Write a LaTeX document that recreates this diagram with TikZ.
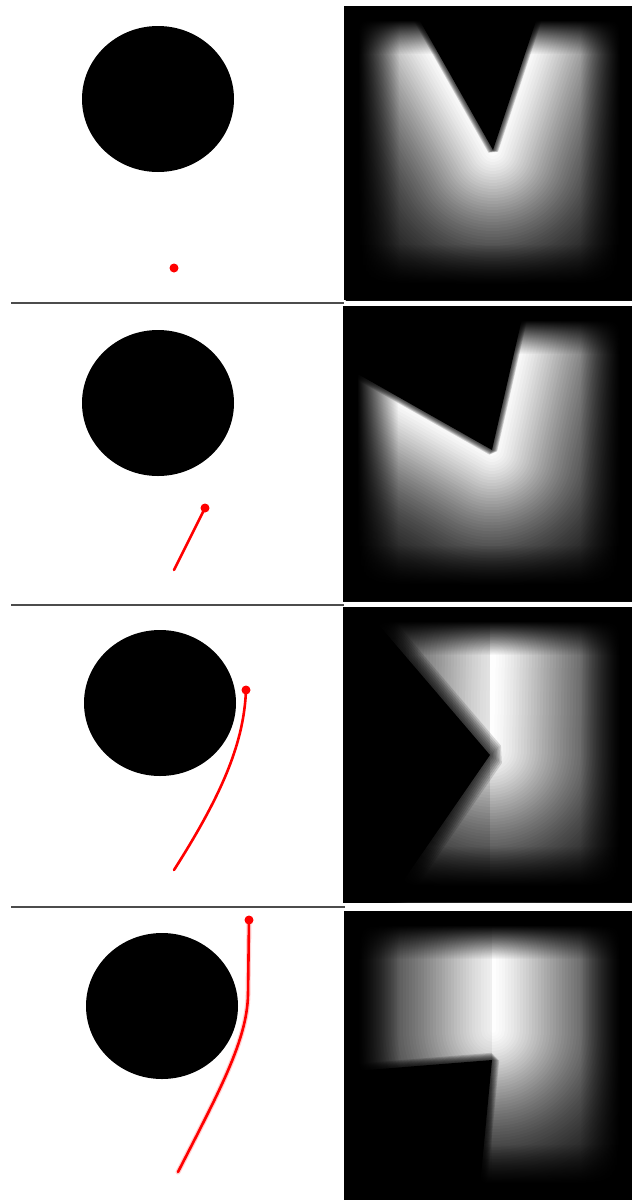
\documentclass[tikz,border=0pt]{standalone}
\usetikzlibrary{fadings}
\tikzfading[name=fadeL, left color=transparent!0, right color=transparent!100]
\tikzfading[name=fadeR, left color=transparent!100, right color=transparent!0]
\tikzfading[name=fadeT, top color=transparent!0, bottom color=transparent!100]
\tikzfading[name=fadeB, top color=transparent!100, bottom color=transparent!0]
\tikzset{
  obstacle/.style={fill=black},
  arm/.style={red, line width=2.6pt, line cap=round, line join=round},
  tip/.style={circle, fill=red, inner sep=0pt, minimum size=9pt},
  separator/.style={black!70, line width=1.4pt},
}
% distance field: #1 path, #2 fall-off distance
\newcommand\myfield[2]{%
  \foreach \d in {210,207,...,3}{%
    \pgfmathsetmacro\lv{100*exp(-((\d/#2)^1.5))}%
    \pgfmathsetmacro\lw{2*\d}%
    \draw[line width=\lw pt, draw=white!\lv!black, line join=round, line cap=round] #1;
  }}
% soft black wedge: #1 path, #2 blur
\newcommand\mywedge[2]{%
  \foreach \k in {8,7,...,1}{%
    \pgfmathsetmacro\bw{#2*\k*0.45}%
    \draw[black, opacity=0.14, line width=\bw pt, line join=bevel] #1;
  }
  \fill[black] #1;}
% darkened borders: x0 y0 x1 y1
\newcommand\myvignette[4]{%
  \fill[black] (#1,#2) rectangle ({#1+14},#4);
  \fill[black,path fading=fadeL] ({#1+14},#2) rectangle ({#1+55},#4);
  \fill[black] ({#3-12},#2) rectangle (#3,#4);
  \fill[black,path fading=fadeR] ({#3-52},#2) rectangle ({#3-12},#4);
  \fill[black] (#1,#2) rectangle (#3,{#2+14});
  \fill[black,path fading=fadeT] (#1,{#2+14}) rectangle (#3,{#2+48});
  \fill[black] (#1,{#4-16}) rectangle (#3,#4);
  \fill[black,path fading=fadeB] (#1,{#4-56}) rectangle (#3,{#4-16});
}
\begin{document}
\begin{tikzpicture}[x=1pt,y=-1pt]
\useasboundingbox (0,0) rectangle (632,1200);
\fill[white] (0,0) rectangle (632,1200);

% ---------------- left panels ----------------
% row 1
\fill[obstacle] (158,99) ellipse (76 and 73);
\node[tip] (t1) at (174,268) {};
\draw[separator] (11,303) -- (344,303);
% row 2
\fill[obstacle] (158,403) ellipse (76 and 73);
\coordinate (c2) at (205,508);
\coordinate (b2) at (174,570);
\draw[arm] (b2) -- (c2);
\node[tip] (t2) at (c2) {};
\draw[separator] (11,605) -- (344,605);
% row 3
\fill[obstacle] (160,703) ellipse (76 and 73);
\coordinate (c3) at (246,690);
\coordinate (b3) at (174,870);
\draw[arm] (c3) .. controls (244,740) and (225,790) .. (b3);
\node[tip] (t3) at (c3) {};
\draw[separator] (11,907) -- (345,907);
% row 4
\fill[obstacle] (162,1006) ellipse (76 and 73);
\coordinate (c4) at (249,920);
\coordinate (b4) at (178,1172);
\draw[red!18, line width=5pt, line cap=round] (c4) -- (248,995) .. controls (247,1040) and (220,1090) .. (b4);
\draw[arm] (c4) -- (248,995) .. controls (247,1040) and (220,1090) .. (b4);
\node[tip] (t4) at (c4) {};

% ---------------- right panels ----------------
% panel 1
\fill[black] (344,6) rectangle (632,300);
\begin{scope}
\clip (344,6) rectangle (632,300);
\myfield{(493,150) -- (99,-546) -- (746,-609) -- cycle}{90}
\mywedge{(493,150) -- (99,-546) -- (746,-609) -- cycle}{3}
\myvignette{344}{6}{632}{300}
\end{scope}

% panel 2
\fill[black] (343,306) rectangle (632,601);
\begin{scope}
\clip (343,306) rectangle (632,601);
\myfield{(492,450) -- (-204,56) -- (670,-330) -- cycle}{90}
\mywedge{(492,450) -- (-204,56) -- (670,-330) -- cycle}{3}
\myvignette{343}{306}{632}{601}
\end{scope}

% panel 3
\fill[black] (343,607) rectangle (632,902);
\begin{scope}
\clip (343,607) rectangle (632,902);
\myfield{(493,655) -- (491,750)}{100}
\fill[black, opacity=0.1] (343,607) rectangle (490,902);
\mywedge{(490,755) -- (-30,147) -- (36,1413) -- cycle}{8}
\myvignette{343}{607}{632}{902}
\end{scope}

% panel 4
\fill[black] (344,911) rectangle (632,1200);
\begin{scope}
\clip (344,911) rectangle (632,1200);
\myfield{(493,955) -- (493,1030)}{100}
\fill[black, opacity=0.06] (344,911) rectangle (492,1200);
\mywedge{(492,1060) -- (-306,1124) -- (416,1856) -- cycle}{4}
\myvignette{344}{911}{632}{1200}
\end{scope}
\end{tikzpicture}
\end{document}
